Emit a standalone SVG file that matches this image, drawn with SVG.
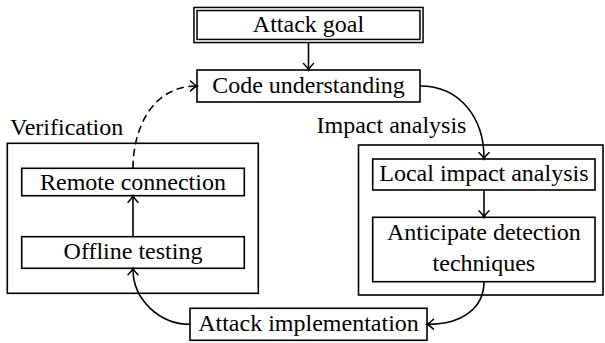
<svg xmlns="http://www.w3.org/2000/svg" width="605" height="343" viewBox="0 0 605 343">
<style>
text{font-family:"Liberation Serif","Times New Roman",serif;font-size:24px;fill:#000}
.c{text-anchor:middle}
.box{fill:#fff;stroke:#000;stroke-width:1.6}
.grp{fill:none;stroke:#000;stroke-width:1.6}
.edge{fill:none;stroke:#000;stroke-width:1.6}
.dash{stroke-dasharray:7.5 4.5}
</style>
<defs>
<marker id="ah" markerUnits="userSpaceOnUse" markerWidth="14" markerHeight="14" viewBox="-8 -7 14 14" refX="0" refY="0" orient="auto">
<path d="M-5.5,-5 Q-1.5,-1 1,0 Q-1.5,1 -5.5,5" fill="none" stroke="#000" stroke-width="1.5" stroke-linecap="round"/>
</marker>
</defs>
<g id="verification">
<rect class="grp" x="7.3" y="143.3" width="251" height="150"/>
<text x="10" y="135">Verification</text>
</g>
<g id="impact">
<rect class="grp" x="358.5" y="145" width="244.5" height="150"/>
<text x="316.5" y="133.3">Impact analysis</text>
</g>
<g id="attack-goal">
<rect x="195.5" y="9" width="226" height="32" fill="#fff" stroke="#000" stroke-width="4.6"/>
<rect x="195.5" y="9" width="226" height="32" fill="none" stroke="#fff" stroke-width="1.6"/>
<text class="c" x="308.5" y="31.5">Attack goal</text>
</g>
<g id="code-understanding">
<rect class="box" x="197" y="70" width="223" height="32"/>
<text class="c" x="308.5" y="92.5">Code understanding</text>
</g>
<g id="remote-connection">
<rect class="box" x="21.7" y="168.3" width="222.6" height="27.4"/>
<text class="c" x="133" y="190">Remote connection</text>
</g>
<g id="offline-testing">
<rect class="box" x="21.7" y="236.7" width="222.6" height="31.6"/>
<text class="c" x="133" y="259">Offline testing</text>
</g>
<g id="local-impact">
<rect class="box" x="372.7" y="159" width="222.3" height="31"/>
<text class="c" x="483.9" y="181">Local impact analysis</text>
</g>
<g id="anticipate">
<rect class="box" x="372.7" y="217.3" width="222.3" height="64.4"/>
<text class="c" x="483.9" y="239.5">Anticipate detection</text>
<text class="c" x="483.9" y="270.5">techniques</text>
</g>
<g id="attack-implementation">
<rect class="box" x="190" y="308.3" width="237" height="32"/>
<text class="c" x="308.5" y="330.5">Attack implementation</text>
</g>
<g id="connectors">
<path class="edge" d="M308.5,42.5 L308.5,69" marker-end="url(#ah)"/>
<path class="edge" d="M420,86 C460,86 484,118 484,158" marker-end="url(#ah)"/>
<path class="edge" d="M484,190 L484,216.3" marker-end="url(#ah)"/>
<path class="edge" d="M484,281.7 C484,308 462,324.3 428,324.3" marker-end="url(#ah)"/>
<path class="edge" d="M190,324.3 C160,324.3 133,300 133,269.3" marker-end="url(#ah)"/>
<path class="edge" d="M133,236.7 L133,196.7" marker-end="url(#ah)"/>
<path class="edge dash" d="M133,168.3 C133,125 155,86 196,86" marker-end="url(#ah)"/>
</g>
</svg>
